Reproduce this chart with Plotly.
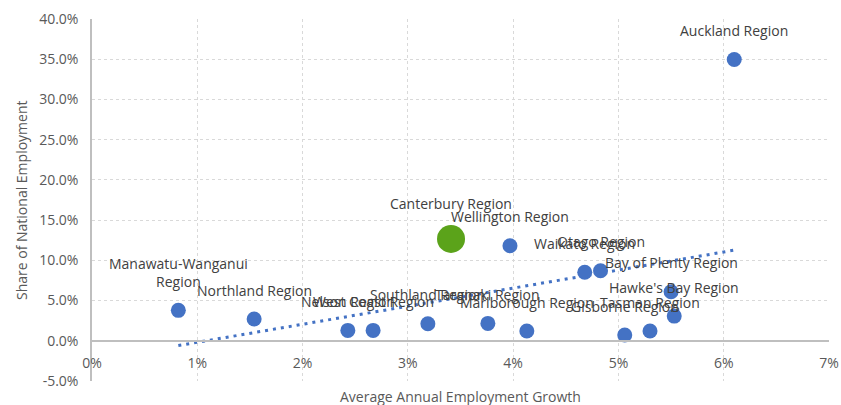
import numpy as np
import plotly.graph_objects as go

regions = ["Manawatu-Wanganui Region", "Northland Region", "Nelson Region", "West Coast Region",
           "Southland Region", "Canterbury Region", "Taranaki Region", "Wellington Region",
           "Marlborough Region", "Waikato Region", "Otago Region", "Gisborne Region",
           "Tasman Region", "Bay of Plenty Region", "Hawke's Bay Region", "Auckland Region"]
growth = [0.82, 1.54, 2.43, 2.67, 3.19, 3.41, 3.76, 3.97, 4.13, 4.68, 4.83, 5.06, 5.30, 5.50, 5.53, 6.10]
share = [3.78, 2.70, 1.29, 1.29, 2.12, 12.66, 2.16, 11.82, 1.21, 8.51, 8.71, 0.71, 1.21, 6.10, 3.07, 34.97]
highlight = "Canterbury Region"

x_ticks = [0, 1, 2, 3, 4, 5, 6, 7]
y_ticks = [-5, 0, 5, 10, 15, 20, 25, 30, 35, 40]

BLUE = "#4472C4"
GREEN = "#5BA31A"
FONT = "Open Sans"

sizes = [28 if r == highlight else 15 for r in regions]
colors = [GREEN if r == highlight else BLUE for r in regions]

fig = go.Figure()

# linear trendline
slope, intercept = np.polyfit(growth, share, 1)
tx = [min(growth), max(growth)]
ty = [slope * v + intercept for v in tx]
fig.add_trace(go.Scatter(x=tx, y=ty, mode="lines",
                         line=dict(color=BLUE, width=3, dash="3px,5px"),
                         hoverinfo="skip", showlegend=False))

fig.add_trace(go.Scatter(x=growth, y=share, mode="markers",
                         marker=dict(size=sizes, color=colors, line=dict(width=0), opacity=1),
                         text=regions, showlegend=False))


def wrap(name):
    if len(name) > 20:
        i = name.rfind(" ")
        return name[:i] + "<br>" + name[i + 1:]
    return name


for r, gx, sy, s in zip(regions, growth, share, sizes):
    fig.add_annotation(x=gx, y=sy, text=wrap(r), showarrow=False,
                       xanchor="center", yanchor="bottom", yshift=s / 2 + 10,
                       font=dict(family=FONT, size=14, color="#404040"))

fig.add_annotation(text="Average Annual Employment Growth", xref="paper", yref="paper",
                   x=0.5, y=0, xanchor="center", yanchor="top", yshift=-4, showarrow=False,
                   font=dict(family=FONT, size=14, color="#595959"))
fig.add_annotation(text="Share of National Employment", xref="paper", yref="paper",
                   x=0, y=0.5, xanchor="center", yanchor="middle", xshift=-71, textangle=-90,
                   showarrow=False, font=dict(family=FONT, size=14, color="#595959"))

y0, y1 = -5, 40
fig.update_layout(
    width=841, height=405,
    margin=dict(l=92, r=12, t=19, b=24),
    paper_bgcolor="white", plot_bgcolor="white",
    font=dict(family=FONT, size=14, color="#595959"),
    xaxis=dict(range=[0, 7], tickvals=x_ticks, ticktext=[f"{v}%" for v in x_ticks],
               anchor="free", position=(0 - y0) / (y1 - y0),
               showline=True, linecolor="#BFBFBF", linewidth=1.5,
               showgrid=True, gridcolor="#D9D9D9", gridwidth=1, griddash="dot",
               zeroline=False, ticks="", ticklabelstandoff=10, automargin=False,
               tickfont=dict(family=FONT, size=14, color="#595959")),
    yaxis=dict(range=[y0, y1], tickvals=y_ticks, ticktext=[f"{v:.1f}%" for v in y_ticks],
               showline=True, linecolor="#BFBFBF", linewidth=1.5,
               showgrid=True, gridcolor="#D9D9D9", gridwidth=1, griddash="dot",
               zeroline=False, ticks="", ticklabelstandoff=9, automargin=False,
               tickfont=dict(family=FONT, size=14, color="#595959")),
)

# remove the browser's default 8px page margin so the figure fills the window exactly
fig.write_html("out.html", config={"displayModeBar": False},
               post_script="document.body.style.margin='0';document.body.style.overflow='hidden';")
